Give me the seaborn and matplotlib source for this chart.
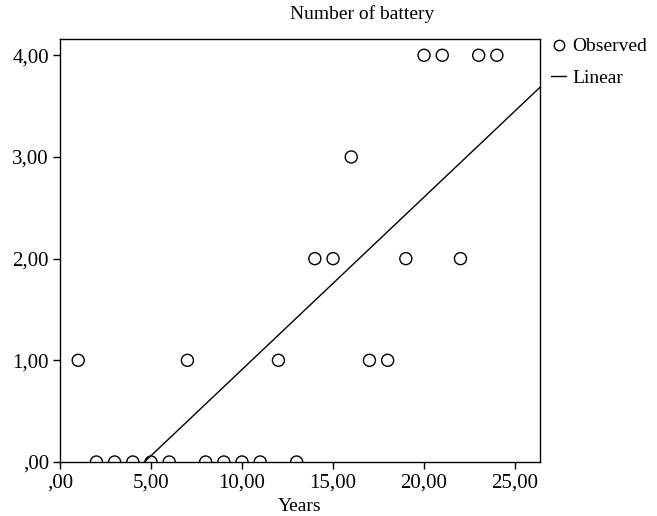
import matplotlib
matplotlib.use("Agg")
import matplotlib.pyplot as plt
import seaborn as sns
import pandas as pd
from matplotlib.lines import Line2D
from matplotlib.ticker import FuncFormatter

years = list(range(1, 25))
battery = [1, 0, 0, 0, 0, 0, 1, 0, 0, 0, 0, 1, 0, 2, 2, 3, 1, 1, 2, 4, 4, 2, 4, 4]
x_ticks = [0, 5, 10, 15, 20, 25]
y_ticks = [0, 1, 2, 3, 4]

df = pd.DataFrame({"Years": years, "Battery": battery})

sns.set_theme(style="ticks")
plt.rcParams['font.family'] = ['Liberation Serif', 'DejaVu Serif']
plt.rcParams['text.color'] = 'black'
plt.rcParams['axes.labelcolor'] = 'black'

fig = plt.figure(figsize=(6.57, 5.16), dpi=100)
ax = fig.add_axes([60/657, 1-462/516, 480/657, (462-39)/516])

ax.set_xlim(0, 26.37)
ax.set_ylim(0, 4.16)

sns.regplot(data=df, x="Years", y="Battery", scatter=False, ci=None, truncate=False,
            line_kws=dict(color="black", lw=1.0), ax=ax)
sns.scatterplot(data=df, x="Years", y="Battery", marker="o", s=75, facecolor="none",
                edgecolor="black", linewidth=1.0, ax=ax, clip_on=True, zorder=3)
ax.set_xlim(0, 26.37)
ax.set_ylim(0, 4.16)

fmt = FuncFormatter(lambda v, p: ("%.2f" % v).replace(".", ",").lstrip("0") if abs(v) < 1 else ("%.2f" % v).replace(".", ","))
ax.set_xticks(x_ticks)
ax.set_yticks(y_ticks)
ax.xaxis.set_major_formatter(fmt)
ax.yaxis.set_major_formatter(fmt)
ax.tick_params(direction="out", length=5, width=1, colors="black", labelcolor="black",
               labelsize=15, pad=3)
for s in ax.spines.values():
    s.set_visible(True)
    s.set_color("black")
    s.set_linewidth(1.0)
ax.set_xlabel("Years", fontsize=14, labelpad=4, color="black")
ax.set_ylabel("")

fig.text(362/657, 1-14/516, "Number of battery", ha="center", va="center", fontsize=14, color="black")

handles = [Line2D([], [], marker="o", ls="none", mfc="none", mec="black", ms=7.5, mew=1),
           Line2D([], [], color="black", lw=1)]
leg = fig.legend(handles, ["Observed", "Linear"], loc="upper left",
                 bbox_to_anchor=(543/657, 1-30/516), frameon=False, fontsize=14,
                 handlelength=0.8, handletextpad=0.3, labelspacing=0.7, borderaxespad=0,
                 labelcolor="black")

fig.savefig("out.png", dpi=100)
